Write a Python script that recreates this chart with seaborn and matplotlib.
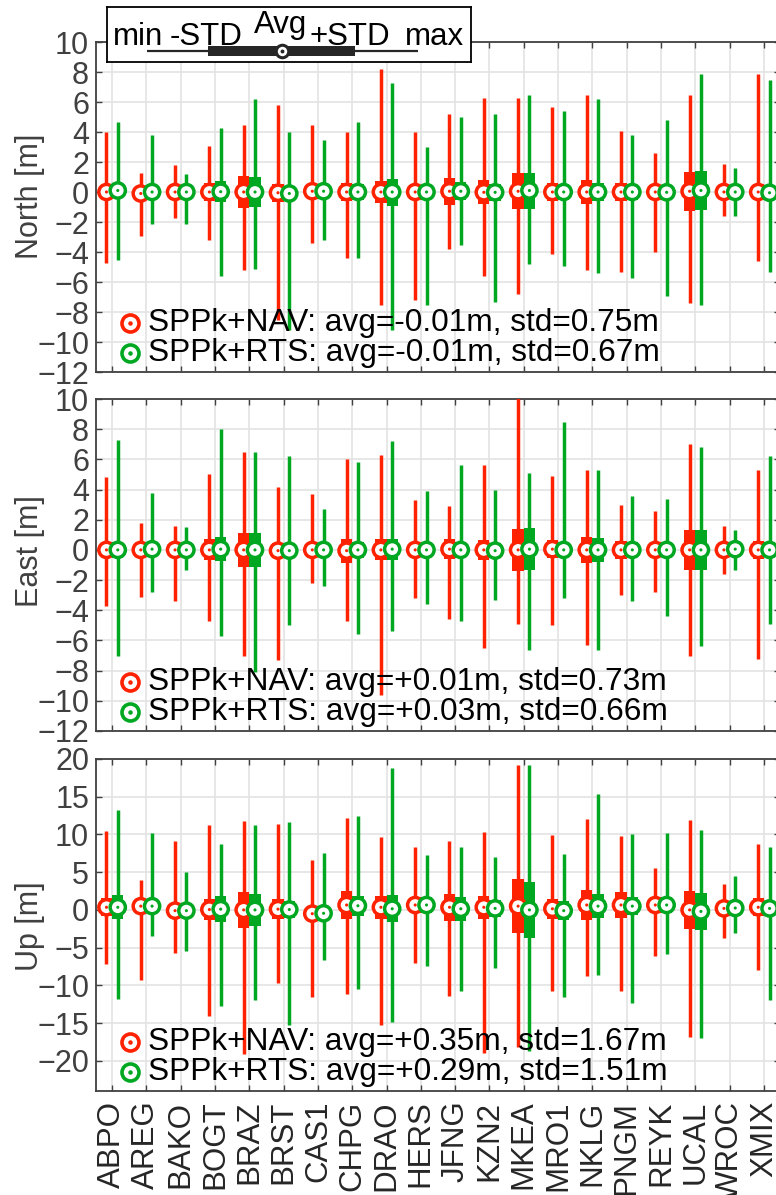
import numpy as np
import pandas as pd
import matplotlib
matplotlib.use("Agg")
import matplotlib.pyplot as plt
import seaborn as sns

# ---------------- data ----------------
stations = ["ABPO", "AREG", "BAKO", "BOGT", "BRAZ", "BRST", "CAS1", "CHPG", "DRAO", "HERS",
            "JFNG", "KZN2", "MKEA", "MRO1", "NKLG", "PNGM", "REYK", "UCAL", "WROC", "XMIX"]
series_names = ["SPPk+NAV", "SPPk+RTS"]

# North [m]
north_nav_avg = [0.0, -0.1, 0.0, 0.0, 0.0, -0.05, 0.05, 0.0, 0.0, 0.0, 0.05, -0.02, 0.05, 0.0, 0.0, 0.0, 0.0, 0.05, 0.0, 0.0]
north_nav_std = [0.45, 0.35, 0.35, 0.6, 1.05, 0.6, 0.5, 0.6, 0.75, 0.5, 0.9, 0.8, 1.2, 0.6, 0.8, 0.6, 0.5, 1.3, 0.45, 0.55]
north_nav_min = [-4.7, -2.9, -1.7, -3.2, -5.2, -8.5, -3.4, -4.4, -7.5, -7.2, -3.8, -5.6, -6.8, -4.1, -5.2, -5.3, -4.0, -7.4, -1.6, -4.6]
north_nav_max = [4.0, 1.3, 1.8, 3.1, 4.5, 5.8, 4.5, 4.0, 8.2, 4.0, 5.2, 6.3, 6.3, 5.7, 6.5, 4.1, 2.6, 6.5, 1.9, 7.9]
north_rts_avg = [0.1, 0.0, 0.0, 0.02, 0.0, -0.1, 0.05, 0.0, 0.0, 0.0, 0.05, -0.02, 0.1, 0.0, 0.0, 0.0, -0.02, 0.1, 0.0, -0.05]
north_rts_std = [0.5, 0.4, 0.4, 0.7, 1.0, 0.5, 0.45, 0.55, 0.9, 0.45, 0.6, 0.55, 1.2, 0.5, 0.6, 0.5, 0.45, 1.3, 0.4, 0.45]
north_rts_min = [-4.5, -2.1, -2.1, -5.6, -5.1, -9.2, -3.2, -4.4, -9.2, -7.5, -3.5, -7.3, -4.8, -4.9, -5.4, -5.7, -6.9, -7.5, -1.6, -5.3]
north_rts_max = [4.7, 3.8, 1.2, 4.3, 6.2, 4.0, 3.5, 4.7, 7.3, 3.0, 5.0, 5.2, 6.5, 5.4, 6.2, 3.8, 4.8, 7.9, 1.6, 7.5]

# East [m]
east_nav_avg = [0.0, 0.0, 0.0, 0.0, 0.0, -0.05, 0.0, -0.05, 0.0, 0.0, 0.05, 0.0, 0.0, 0.05, 0.0, 0.0, 0.0, 0.0, 0.0, 0.0]
east_nav_std = [0.5, 0.4, 0.45, 0.7, 1.15, 0.5, 0.45, 0.8, 0.7, 0.45, 0.65, 0.65, 1.4, 0.6, 0.85, 0.6, 0.5, 1.35, 0.4, 0.6]
east_nav_min = [-3.7, -3.1, -3.4, -4.7, -7.0, -7.3, -2.2, -4.7, -9.6, -3.2, -4.6, -6.5, -4.9, -5.0, -6.3, -3.0, -2.8, -7.0, -1.6, -7.2]
east_nav_max = [4.8, 1.8, 1.6, 5.0, 6.5, 4.2, 3.7, 6.0, 6.3, 3.3, 2.9, 5.6, 10.3, 4.9, 5.3, 3.0, 2.6, 7.0, 1.6, 5.3]
east_rts_avg = [0.0, 0.05, 0.0, 0.05, 0.0, -0.05, 0.0, 0.0, 0.05, 0.0, 0.0, -0.05, 0.05, 0.0, 0.0, 0.0, 0.0, 0.0, 0.05, 0.0]
east_rts_std = [0.55, 0.45, 0.4, 0.8, 1.15, 0.5, 0.4, 0.55, 0.7, 0.45, 0.55, 0.5, 1.4, 0.5, 0.8, 0.5, 0.45, 1.3, 0.35, 0.5]
east_rts_min = [-7.0, -2.8, -1.3, -5.7, -8.1, -5.0, -2.4, -5.6, -5.4, -3.6, -4.7, -3.3, -6.6, -3.2, -6.6, -3.4, -4.4, -6.4, -1.3, -4.9]
east_rts_max = [7.3, 3.8, 1.5, 8.0, 6.5, 6.2, 2.7, 5.8, 7.2, 3.9, 5.6, 4.0, 5.1, 8.5, 5.3, 3.6, 3.4, 6.8, 1.3, 6.2]

# Up [m]
up_nav_avg = [0.35, 0.5, -0.1, 0.05, 0.0, 0.1, -0.5, 0.65, 0.35, 0.65, 0.35, 0.35, 0.5, 0.15, 0.65, 0.65, 0.65, 0.0, 0.2, 0.35]
up_nav_std = [1.2, 0.9, 0.9, 1.4, 2.4, 1.3, 1.0, 1.8, 1.5, 1.1, 1.8, 1.5, 3.6, 1.3, 2.0, 1.7, 1.1, 2.5, 1.0, 1.2]
up_nav_min = [-7.2, -9.3, -5.7, -14.0, -19.1, -9.7, -11.6, -11.1, -15.3, -7.1, -11.4, -18.9, -18.2, -10.8, -8.8, -10.8, -6.1, -16.9, -3.7, -8.0]
up_nav_max = [10.5, 3.9, 9.1, 11.2, 11.8, 11.4, 6.6, 12.2, 9.6, 8.4, 9.1, 10.3, 19.2, 9.9, 12.0, 9.8, 5.5, 11.9, 3.4, 8.7]
up_rts_avg = [0.35, 0.5, -0.1, 0.1, 0.0, 0.05, -0.45, 0.55, 0.15, 0.65, 0.15, 0.2, 0.0, -0.1, 0.5, 0.5, 0.65, -0.2, 0.25, 0.2]
up_rts_std = [1.6, 0.9, 0.8, 1.7, 2.1, 1.1, 0.9, 1.3, 1.8, 1.0, 1.6, 1.1, 3.7, 1.3, 1.6, 1.2, 1.1, 2.4, 0.8, 1.0]
up_rts_min = [-11.8, -3.5, -5.4, -12.8, -11.9, -15.3, -6.7, -10.5, -14.9, -7.5, -10.8, -7.7, -18.7, -11.6, -8.6, -12.4, -5.8, -17.0, -3.1, -11.9]
up_rts_max = [13.2, 10.2, 5.0, 8.7, 11.2, 11.7, 7.5, 12.5, 18.8, 7.3, 8.4, 7.0, 19.2, 7.4, 15.4, 10.1, 10.2, 10.6, 4.5, 8.4]

# summary statistics printed in each panel
north_stats = [("-0.01", "0.75"), ("-0.01", "0.67")]
east_stats = [("+0.01", "0.73"), ("+0.03", "0.66")]
up_stats = [("+0.35", "1.67"), ("+0.29", "1.51")]

# ---------------- style ----------------
RED = "#FF2200"
GREEN = "#00A822"
DARK = "#262626"
GREY = "#404040"
GRID = "#E3E3E3"

sns.set_theme(style="whitegrid")
plt.rcParams["font.family"] = ["Liberation Sans", "DejaVu Sans"]
plt.rcParams["axes.edgecolor"] = GREY
plt.rcParams["axes.linewidth"] = 1.1

W, H = 776, 1195
fig = plt.figure(figsize=(W / 100, H / 100), dpi=100)
fig.patch.set_facecolor("white")


def px_axes(left, top, right, bottom):
    return fig.add_axes([left / W, 1 - bottom / H, (right - left) / W, (bottom - top) / H])


def make_df(avg_a, std_a, mn_a, mx_a, avg_b, std_b, mn_b, mx_b):
    rows = []
    for name, off, avg, std, mn, mx in [(series_names[0], -0.165, avg_a, std_a, mn_a, mx_a),
                                        (series_names[1], 0.165, avg_b, std_b, mn_b, mx_b)]:
        for i, st in enumerate(stations):
            rows.append(dict(station=st, series=name, pos=i + off, avg=avg[i], std=std[i],
                             mn=mn[i], mx=mx[i]))
    return pd.DataFrame(rows)


palette = {series_names[0]: RED, series_names[1]: GREEN}


def draw_panel(ax, df, ylim, yticks, ylabel, label_y, stats, show_x):
    ax.set_facecolor("white")
    for name, sub in df.groupby("series", sort=False):
        c = palette[name]
        ax.vlines(sub["pos"], sub["mn"], sub["mx"], color=c, lw=2.5, zorder=3)
        ax.bar(sub["pos"], 2 * sub["std"], bottom=sub["avg"] - sub["std"], width=0.33,
               color=c, linewidth=0, zorder=3)
    # average markers (ring) drawn through seaborn
    sns.scatterplot(data=df, x="pos", y="avg", hue="series", palette=palette, ax=ax,
                    s=120, marker="o", linewidth=2.5, legend=False, zorder=4)
    coll = ax.collections[-1]
    fc = coll.get_facecolors()
    coll.set_edgecolors(fc)
    coll.set_facecolors("white")
    sns.scatterplot(data=df, x="pos", y="avg", hue="series", palette=palette, ax=ax,
                    s=5, marker="o", linewidth=0, legend=False, zorder=5)

    ax.set_xlim(-0.47, 19.47)
    ax.set_ylim(*ylim)
    ax.set_yticks(yticks)
    ax.set_xticks(range(len(stations)))
    if show_x:
        ax.set_xticklabels(stations, rotation=90, fontsize=22.5, color=DARK)
    else:
        ax.set_xticklabels([])
    ax.set_xlabel("")
    ax.set_ylabel(ylabel, fontsize=22, color=GREY, va="center")
    ax.yaxis.set_label_coords(-0.0965, label_y)
    ax.tick_params(axis="y", labelsize=22, labelcolor=GREY, direction="in", length=4,
                   width=1.0, color=GREY, right=True, left=True, pad=5)
    ax.tick_params(axis="x", direction="in", length=4, width=1.0, color=GREY,
                   top=True, bottom=True, pad=7)
    ax.grid(True, color=GRID, lw=1.2)
    ax.set_axisbelow(True)
    for sp in ax.spines.values():
        sp.set_color(GREY)
        sp.set_linewidth(1.3)
        sp.set_visible(True)

    # in-panel statistics
    for k, (name, (av, sd)) in enumerate(zip(series_names, stats)):
        yy = 0.1485 - 0.091 * k
        c = palette[name]
        ax.scatter([0.0497], [yy], s=150, facecolor="white", edgecolor=c, linewidth=2.6,
                   transform=ax.transAxes, zorder=6, clip_on=False)
        ax.scatter([0.0497], [yy], s=5, color=c, transform=ax.transAxes, zorder=7,
                   clip_on=False)
        ax.text(0.076, yy, f"{name}: avg={av}m, std={sd}m", transform=ax.transAxes,
                fontsize=22.8, color="black", va="center", ha="left", zorder=6)


ax_n = px_axes(96, 42, 780, 372)
ax_e = px_axes(96, 399, 780, 731)
ax_u = px_axes(96, 759, 780, 1091)

draw_panel(ax_n, make_df(north_nav_avg, north_nav_std, north_nav_min, north_nav_max,
                         north_rts_avg, north_rts_std, north_rts_min, north_rts_max),
           (-12, 10), np.arange(-12, 11, 2), "North [m]", 0.533, north_stats, False)
draw_panel(ax_e, make_df(east_nav_avg, east_nav_std, east_nav_min, east_nav_max,
                         east_rts_avg, east_rts_std, east_rts_min, east_rts_max),
           (-12, 10), np.arange(-12, 11, 2), "East [m]", 0.542, east_stats, False)
draw_panel(ax_u, make_df(up_nav_avg, up_nav_std, up_nav_min, up_nav_max,
                         up_rts_avg, up_rts_std, up_rts_min, up_rts_max),
           (-24, 20), np.arange(-20, 21, 5), "Up [m]", 0.497, up_stats, True)

# ---------------- key box (min -STD Avg +STD max) ----------------
lg = px_axes(107, 7, 471, 62)
lg.set_xlim(0, 364)
lg.set_ylim(55, 0)
lg.set_facecolor("white")
lg.grid(False)
lg.set_xticks([])
lg.set_yticks([])
for sp in lg.spines.values():
    sp.set_visible(True)
    sp.set_color("black")
    sp.set_linewidth(1.3)
lg.plot([40, 311], [44, 44], color=DARK, lw=1.6, solid_capstyle="butt")
lg.plot([101, 248], [44, 44], color=DARK, lw=7.2, solid_capstyle="butt")
lg.plot([175], [44], marker="o", ms=9, mfc="white", mec=DARK, mew=2.2)
lg.plot([175], [44], marker="o", ms=1.8, color=DARK)
for txt, x, y in [("min", 6, 38), ("-STD", 63, 38), ("Avg", 147, 26), ("+STD", 202, 38),
                  ("max", 298, 38)]:
    lg.text(x, y, txt, fontsize=22.5, color="black", ha="left", va="baseline")

fig.savefig("out.png", dpi=100, facecolor="white")
